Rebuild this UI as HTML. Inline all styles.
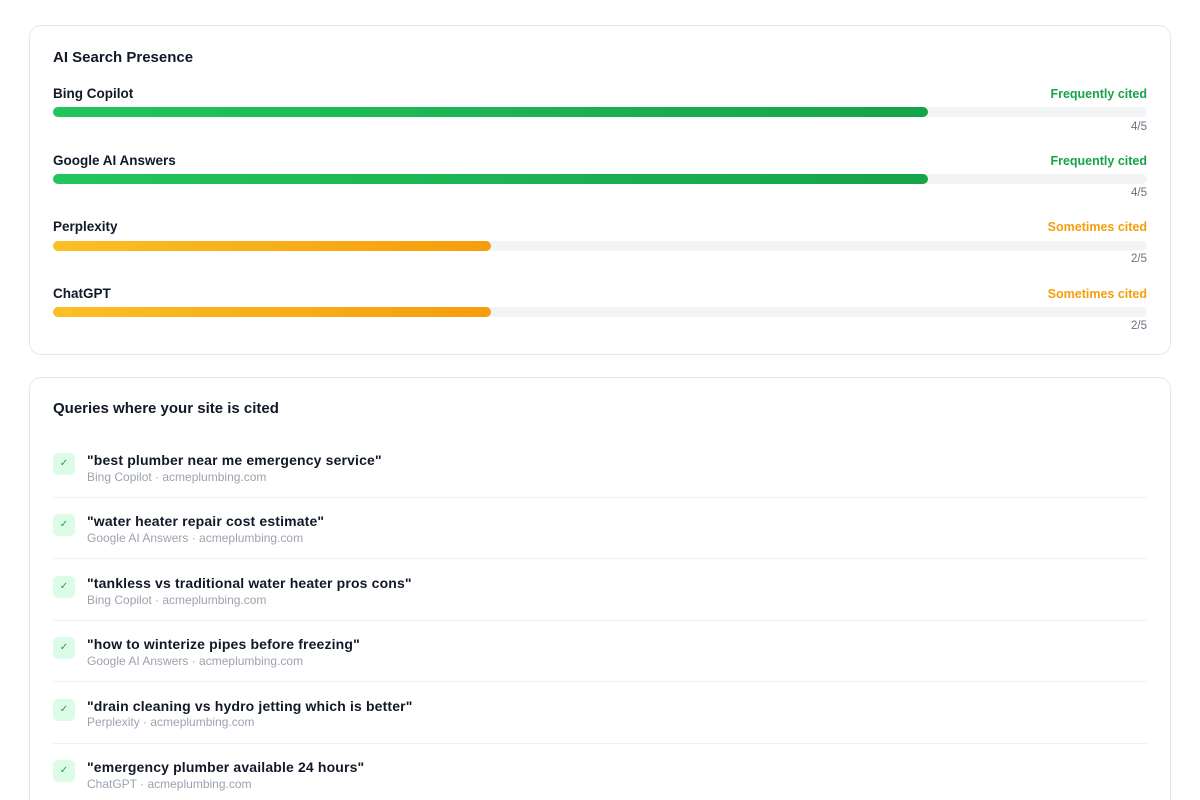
<!DOCTYPE html>
<html style="height:800px;overflow:hidden"><head><meta charset="utf-8"><style>
*{margin:0;padding:0;box-sizing:border-box}
body{width:1200px;height:800px;overflow:hidden;background:#fff;font-family:"Liberation Sans",sans-serif;color:#111827;position:relative}
.card{position:absolute;left:29px;width:1142px;border:1px solid #e5e7eb;border-radius:12px;background:#fff}
.a{position:absolute;white-space:nowrap;line-height:1}
.h{font-size:15px;font-weight:bold;left:23px}
.lab{font-size:13.5px;font-weight:bold;left:23px}
.st{font-size:12.5px;font-weight:bold;right:23px}
.sc{font-size:11.5px;color:#6b7280;right:23px}
.track{position:absolute;left:23px;width:1094px;height:10px;border-radius:5px;background:#f3f4f6}
.fill{height:10px;border-radius:5px}
.g{background:linear-gradient(90deg,#22c55e,#16a34a);width:875px}
.o{background:linear-gradient(90deg,#fbbf24,#f59e0b);width:438px}
.cb{position:absolute;left:23px;width:22px;height:22px;border-radius:5px;background:#dcfce7;color:#16a34a;font-size:10px;text-align:center;line-height:22px}
.q{font-size:14px;font-weight:bold;left:57px;letter-spacing:0.15px}
.s{font-size:12px;color:#9ca3af;left:57px}
.div{position:absolute;left:23px;width:1094px;height:1px;background:#f0f1f3}
</style></head><body>
<div class="card" style="top:25px;height:330px">
<div class="a h" style="top:24px">AI Search Presence</div>
<div class="a lab" style="top:61px">Bing Copilot</div><div class="a st" style="top:62px;color:#16a34a">Frequently cited</div>
<div class="track" style="top:81px"><div class="fill g"></div></div><div class="a sc" style="top:96px">4/5</div>
<div class="a lab" style="top:128px">Google AI Answers</div><div class="a st" style="top:129px;color:#16a34a">Frequently cited</div>
<div class="track" style="top:148px"><div class="fill g"></div></div><div class="a sc" style="top:162px">4/5</div>
<div class="a lab" style="top:194px">Perplexity</div><div class="a st" style="top:195px;color:#f59e0b">Sometimes cited</div>
<div class="track" style="top:215px"><div class="fill o"></div></div><div class="a sc" style="top:228px">2/5</div>
<div class="a lab" style="top:261px">ChatGPT</div><div class="a st" style="top:262px;color:#f59e0b">Sometimes cited</div>
<div class="track" style="top:281px"><div class="fill o"></div></div><div class="a sc" style="top:295px">2/5</div>
</div>
<div class="card" style="top:377px;height:460px">
<div class="a h" style="top:23px">Queries where your site is cited</div>
<div class="cb" style="top:75px">✓</div><div class="a q" style="top:75px">"best plumber near me emergency service"</div><div class="a s" style="top:93px">Bing Copilot · acmeplumbing.com</div><div class="div" style="top:119px"></div>
<div class="cb" style="top:136px">✓</div><div class="a q" style="top:136px">"water heater repair cost estimate"</div><div class="a s" style="top:154px">Google AI Answers · acmeplumbing.com</div><div class="div" style="top:180px"></div>
<div class="cb" style="top:198px">✓</div><div class="a q" style="top:198px">"tankless vs traditional water heater pros cons"</div><div class="a s" style="top:216px">Bing Copilot · acmeplumbing.com</div><div class="div" style="top:242px"></div>
<div class="cb" style="top:259px">✓</div><div class="a q" style="top:259px">"how to winterize pipes before freezing"</div><div class="a s" style="top:277px">Google AI Answers · acmeplumbing.com</div><div class="div" style="top:303px"></div>
<div class="cb" style="top:321px">✓</div><div class="a q" style="top:321px">"drain cleaning vs hydro jetting which is better"</div><div class="a s" style="top:338px">Perplexity · acmeplumbing.com</div><div class="div" style="top:365px"></div>
<div class="cb" style="top:382px">✓</div><div class="a q" style="top:382px">"emergency plumber available 24 hours"</div><div class="a s" style="top:400px">ChatGPT · acmeplumbing.com</div>
</div>
</body></html>
